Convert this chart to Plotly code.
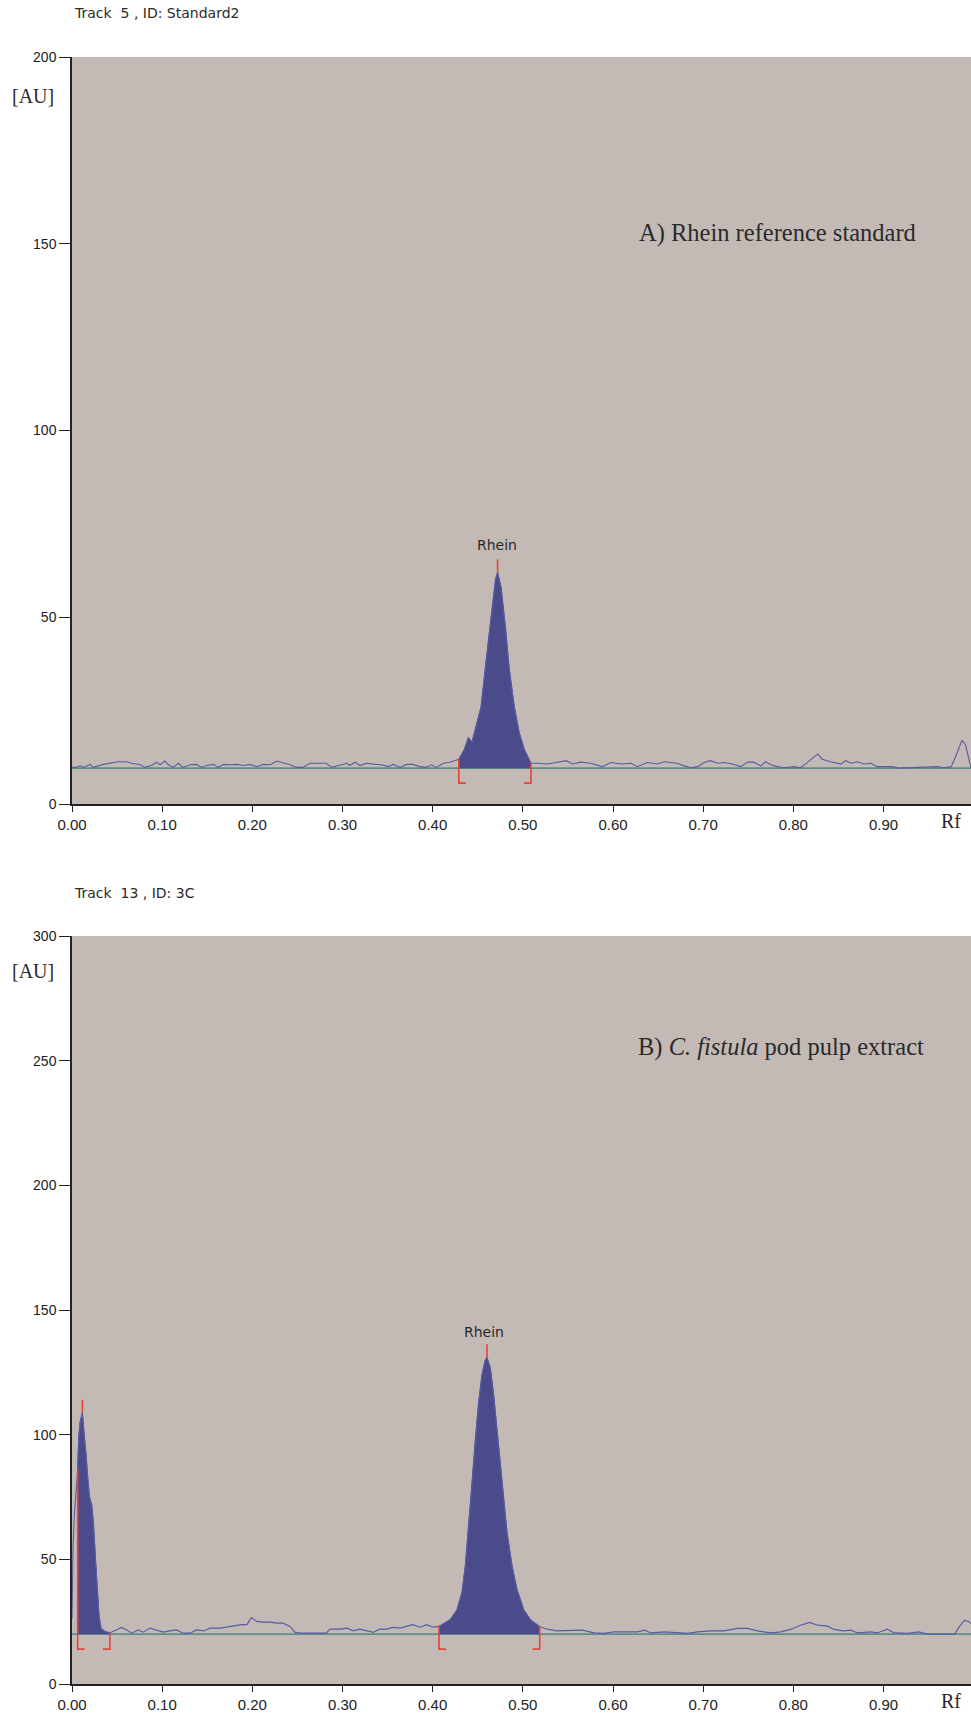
import plotly.graph_objects as go
from plotly.subplots import make_subplots

# ---------------- data ----------------
top_rf = [0.000, 0.005, 0.009, 0.0126, 0.020, 0.0237, 0.0347, 0.042, 0.051, 0.0606,
          0.066, 0.075, 0.081, 0.088, 0.094, 0.0976, 0.103, 0.107, 0.112, 0.118,
          0.123, 0.131, 0.138, 0.144, 0.149, 0.157, 0.162, 0.168, 0.175, 0.183,
          0.190, 0.197, 0.205, 0.212, 0.220, 0.227, 0.232, 0.242, 0.249, 0.256,
          0.264, 0.275, 0.282, 0.288, 0.297, 0.305, 0.308, 0.314, 0.319, 0.327,
          0.336, 0.343, 0.351, 0.356, 0.364, 0.371, 0.378, 0.386, 0.393, 0.399,
          0.404, 0.412, 0.419, 0.425, 0.429,
          0.435, 0.4395, 0.4437, 0.448, 0.4537, 0.459, 0.4648, 0.4696, 0.472, 0.4758,
          0.4806, 0.485, 0.4905, 0.496, 0.5017, 0.507, 0.509,
          0.516, 0.527, 0.537, 0.548, 0.555, 0.564, 0.575, 0.588, 0.598, 0.609,
          0.620, 0.627, 0.638, 0.649, 0.657, 0.664, 0.671, 0.679, 0.686, 0.694,
          0.701, 0.708, 0.716, 0.723, 0.732, 0.742, 0.749, 0.756, 0.764, 0.769,
          0.775, 0.782, 0.790, 0.801, 0.808, 0.816, 0.821, 0.827, 0.832, 0.841,
          0.853, 0.858, 0.864, 0.871, 0.878, 0.886, 0.893, 0.901, 0.910, 0.917,
          0.930, 0.945, 0.960, 0.967, 0.975, 0.980, 0.987, 0.991, 0.997]
top_au = [9.8, 9.8, 10.3, 9.8, 10.6, 9.8, 10.6, 10.9, 11.3, 11.3,
          10.9, 10.6, 9.8, 10.3, 11.2, 10.5, 11.5, 10.5, 9.8, 10.9,
          9.8, 10.5, 10.6, 9.8, 10.3, 10.6, 9.8, 10.6, 10.5, 10.6,
          10.3, 10.6, 10.0, 10.6, 10.5, 11.5, 11.2, 10.5, 9.8, 9.8,
          10.9, 10.9, 10.9, 9.8, 10.3, 10.9, 10.3, 11.2, 10.3, 10.9,
          10.6, 10.5, 10.0, 10.6, 9.8, 10.6, 10.6, 10.0, 9.8, 10.5,
          9.8, 10.9, 11.2, 11.8, 12.0,
          14.5, 17.7, 16.6, 20.7, 26.0, 37.7, 50.0, 60.0, 62.0, 58.0,
          47.4, 35.9, 26.0, 19.0, 14.5, 11.8, 10.9,
          10.9, 10.7, 11.1, 11.6, 10.7, 11.2, 10.9, 10.0, 11.1, 10.7,
          10.9, 10.0, 11.1, 10.7, 11.3, 11.2, 10.9, 10.2, 9.7, 10.0,
          11.1, 11.6, 10.9, 11.1, 10.7, 10.0, 11.2, 11.2, 10.2, 11.3,
          10.5, 10.0, 9.7, 10.0, 9.7, 11.2, 12.2, 13.4, 12.0, 11.3,
          10.7, 11.6, 10.9, 11.3, 10.7, 10.9, 10.0, 10.0, 10.0, 9.6,
          9.7, 9.7, 10.0, 9.7, 10.0, 12.7, 17.1, 15.8, 9.6]

bot_rf = [0.000, 0.0011, 0.0026, 0.0048, 0.0063, 0.0075, 0.0090, 0.0115, 0.0133, 0.0156,
          0.017, 0.0193, 0.0219, 0.0237, 0.0263, 0.0281, 0.030, 0.0322, 0.0367, 0.042,
          0.0495, 0.055, 0.0606, 0.066, 0.0735, 0.079, 0.0865, 0.094, 0.101, 0.108,
          0.116, 0.123, 0.131, 0.138, 0.146, 0.153, 0.164, 0.171, 0.179, 0.188,
          0.194, 0.199, 0.205, 0.212, 0.220, 0.227, 0.234, 0.242, 0.247, 0.253,
          0.268, 0.282, 0.286, 0.297, 0.305, 0.312, 0.319, 0.327, 0.334, 0.341,
          0.349, 0.356, 0.364, 0.371, 0.378, 0.386, 0.393, 0.401, 0.407,
          0.4195, 0.427, 0.4325, 0.4362, 0.440, 0.4436, 0.4473, 0.451, 0.4547, 0.4584,
          0.4602, 0.464, 0.4676, 0.4713, 0.475, 0.4787, 0.4824, 0.488, 0.4935, 0.5009,
          0.5083, 0.5187,
          0.527, 0.538, 0.551, 0.566, 0.579, 0.590, 0.601, 0.616, 0.627, 0.635,
          0.642, 0.657, 0.671, 0.683, 0.694, 0.708, 0.723, 0.738, 0.749, 0.760,
          0.775, 0.786, 0.797, 0.808, 0.818, 0.827, 0.838, 0.845, 0.856, 0.864,
          0.871, 0.886, 0.893, 0.904, 0.912, 0.927, 0.939, 0.949, 0.979, 0.984,
          0.990, 0.995, 0.997]
bot_au = [26.3, 54.4, 67.8, 79.4, 86.0, 99.0, 105.0, 108.8, 100.5, 92.5,
          84.5, 75.1, 71.8, 64.5, 48.4, 36.4, 27.0, 22.3, 21.0, 20.5,
          21.7, 22.7, 21.7, 20.4, 21.7, 20.8, 22.4, 21.7, 20.8, 21.3,
          21.7, 20.4, 20.4, 21.7, 21.3, 22.4, 22.4, 22.8, 23.4, 23.8,
          23.8, 26.7, 25.1, 24.8, 24.8, 24.4, 24.4, 23.1, 20.8, 20.4,
          20.4, 20.4, 22.0, 22.0, 22.4, 21.3, 22.0, 21.3, 20.7, 22.0,
          22.0, 22.7, 22.4, 23.1, 23.8, 22.8, 23.8, 22.8, 23.1,
          25.8, 29.8, 36.7, 47.3, 63.4, 80.9, 98.4, 113.0, 124.0, 130.0,
          131.0, 126.6, 115.8, 102.4, 86.3, 72.9, 60.8, 47.3, 37.9, 29.8,
          25.8, 23.0,
          22.0, 21.3, 21.3, 21.6, 20.5, 20.3, 20.9, 20.9, 20.9, 21.6,
          20.5, 20.9, 20.5, 20.3, 20.9, 21.3, 21.3, 22.3, 22.3, 21.3,
          20.5, 20.9, 21.9, 23.6, 24.7, 23.6, 23.2, 21.9, 21.3, 21.6,
          20.5, 20.9, 20.5, 22.0, 20.5, 20.3, 20.9, 20.0, 20.0, 23.0,
          25.6, 24.9, 24.2]

top_baseline = 9.6
bot_baseline = 20.0
top_brackets = [(0.429, 0.509)]
bot_brackets = [(0.0063, 0.042), (0.407, 0.5187)]
top_peak_rf = [0.472]
bot_peak_rf = [0.0115, 0.4602]
top_labels = [("Rhein", 0.4713, 69.3)]
bot_labels = [("Rhein", 0.457, 141.2)]
x_ticks = [0.0, 0.1, 0.2, 0.3, 0.4, 0.5, 0.6, 0.7, 0.8, 0.9]
top_yticks = [0, 50, 100, 150, 200]
bot_yticks = [0, 50, 100, 150, 200, 250, 300]

# ---------------- styles ----------------
W, H = 971, 1713
ML, MR, MT, MB = 72, 0, 57, 29
PH = H - MT - MB
BG = "#C3BAB5"
FILL = "#4B4A8A"
LINE = "#5A5AA6"
BASE = "#5E8F87"
RED = "#E8433A"
AX = "#222222"

def py2paper(py):
    return (H - MB - py) / PH

def px2paper(px):
    return (px - ML) / (W - ML - MR)

fig = make_subplots(rows=2, cols=1)
top_dom = [py2paper(804), 1.0]
bot_dom = [0.0, py2paper(936)]


def add_panel(row, rf, au, base, brackets, peaks, ymax, labels):
    ppu = 747.0 / ymax  # pixels per unit
    foot = 15 / ppu
    mark = 13 / ppu
    foot_w = 0.0078
    # baseline
    fig.add_trace(go.Scatter(x=[0, 0.997], y=[base, base], mode="lines",
                             line=dict(color=BASE, width=1.6), hoverinfo="skip",
                             showlegend=False), row=row, col=1)
    # integrated areas
    for (a, b) in brackets:
        xs = [x for x in rf if a <= x <= b]
        ys = [au[i] for i, x in enumerate(rf) if a <= x <= b]
        fig.add_trace(go.Scatter(x=xs, y=[base] * len(xs), mode="lines",
                                 line=dict(width=0, color=FILL), hoverinfo="skip",
                                 showlegend=False), row=row, col=1)
        fig.add_trace(go.Scatter(x=xs, y=ys, mode="lines", fill="tonexty",
                                 fillcolor=FILL, line=dict(width=1, color=FILL),
                                 hoverinfo="skip", showlegend=False), row=row, col=1)
    # raw curve
    fig.add_trace(go.Scatter(x=rf, y=au, mode="lines",
                             line=dict(color=LINE, width=1.1), hoverinfo="skip",
                             showlegend=False), row=row, col=1)
    # red brackets
    for (a, b) in brackets:
        ya = au[rf.index(a)]
        yb = au[rf.index(b)]
        fig.add_trace(go.Scatter(x=[a, a, a + foot_w], y=[ya, base - foot, base - foot],
                                 mode="lines", line=dict(color=RED, width=1.6),
                                 hoverinfo="skip", showlegend=False), row=row, col=1)
        fig.add_trace(go.Scatter(x=[b, b, b - foot_w], y=[yb, base - foot, base - foot],
                                 mode="lines", line=dict(color=RED, width=1.6),
                                 hoverinfo="skip", showlegend=False), row=row, col=1)
    # peak markers
    for p in peaks:
        yp = au[rf.index(p)]
        fig.add_trace(go.Scatter(x=[p, p], y=[yp, yp + mark], mode="lines",
                                 line=dict(color=RED, width=1.6), hoverinfo="skip",
                                 showlegend=False), row=row, col=1)
    for (t, x, y) in labels:
        fig.add_annotation(x=x, y=y, text=t, showarrow=False, xref=f"x{row if row > 1 else ''}",
                           yref=f"y{row if row > 1 else ''}",
                           font=dict(family="DejaVu Sans", size=14, color="#2a2a2a"))


add_panel(1, top_rf, top_au, top_baseline, top_brackets, top_peak_rf, 200, top_labels)
add_panel(2, bot_rf, bot_au, bot_baseline, bot_brackets, bot_peak_rf, 300, bot_labels)

xax = dict(range=[0, 0.997], tickvals=x_ticks, tickformat=".2f", showgrid=False,
           zeroline=False, showline=True, linecolor=AX, linewidth=1.5,
           ticks="outside", ticklen=6, tickcolor=AX, tickwidth=1.3,
           tickfont=dict(family="Liberation Sans", size=15, color=AX))
yax = dict(showgrid=False, zeroline=False, showline=True, linecolor=AX, linewidth=1.5,
           ticks="outside", ticklen=11, tickcolor=AX, tickwidth=1.3,
           tickfont=dict(family="Liberation Sans", size=14, color=AX))

fig.update_xaxes(**xax)
fig.update_yaxes(**yax)
fig.update_yaxes(range=[0, 200], tickvals=top_yticks, domain=top_dom, row=1, col=1)
fig.update_yaxes(range=[0, 300], tickvals=bot_yticks, domain=bot_dom, row=2, col=1)

texts = [
    ("Track\u00a0\u00a05 , ID: Standard2", 72, 13, "left", "DejaVu Sans", 14),
    ("Track\u00a0\u00a013 , ID: 3C", 72, 893, "left", "DejaVu Sans", 14),
    ("[AU]", 33, 96, "center", "Liberation Serif", 20),
    ("[AU]", 33, 971, "center", "Liberation Serif", 20),
    ("Rf", 951, 821, "center", "Liberation Serif", 20),
    ("Rf", 951, 1701, "center", "Liberation Serif", 20),
    ("A) Rhein reference standard", 637, 233, "left", "Liberation Serif", 24.5),
    ("B) <i>C. fistula</i> pod pulp extract", 636, 1047, "left", "Liberation Serif", 24.5),
]
for (t, px, py, anc, fam, sz) in texts:
    fig.add_annotation(x=px2paper(px), y=py2paper(py), xref="paper", yref="paper",
                       text=t, showarrow=False, xanchor=anc, yanchor="middle",
                       font=dict(family=fam, size=sz, color="#2a2a2a"))

fig.update_layout(width=W, height=H, margin=dict(l=ML, r=MR, t=MT, b=MB),
                  paper_bgcolor="white", plot_bgcolor=BG, showlegend=False)

fig.write_html("out.html")
